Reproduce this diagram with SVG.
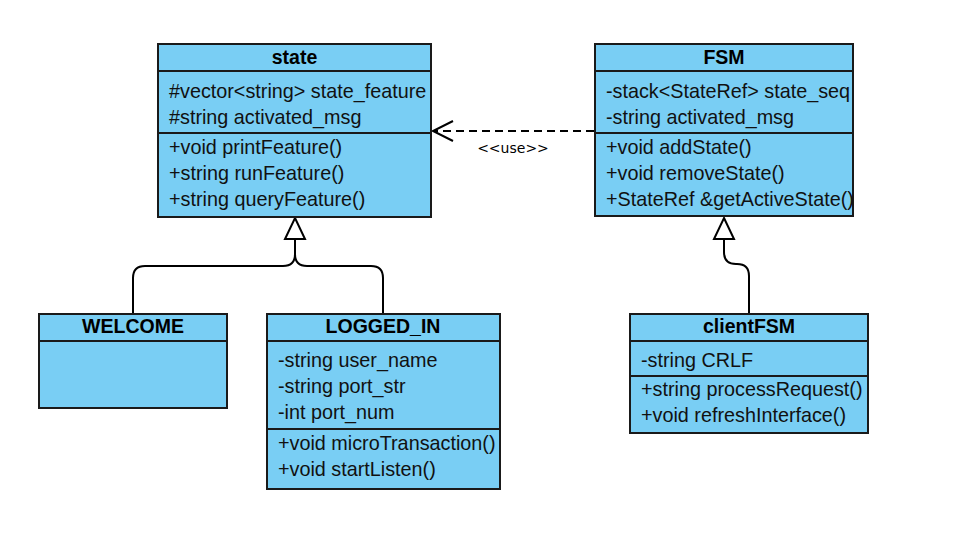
<svg xmlns="http://www.w3.org/2000/svg" width="964" height="546" viewBox="0 0 964 546">
<defs>
<style>
.box{fill:#79CEF4;stroke:#1a1a1a;stroke-width:2}
.sep{stroke:#1a1a1a;stroke-width:2;fill:none}
.t{font-family:"Liberation Sans",Arial,sans-serif;font-size:19.8px;fill:#111}
.h{font-family:"Liberation Sans",Arial,sans-serif;font-size:19.5px;font-weight:bold;fill:#000;text-anchor:middle}
.c{fill:none;stroke:#000;stroke-width:2}
.lbl{font-family:"DejaVu Sans",Verdana,sans-serif;font-size:14px;fill:#000;text-anchor:middle}
</style>
</defs>
<rect width="964" height="546" fill="#fff"/>
<g id="connectors">
<path class="c" d="M295,239 V254 Q295,266 283,266 H145 Q133,266 133,278 V314"/>
<path class="c" d="M295,254 Q295,266 307,266 H371 Q383,266 383,278 V314"/>
<polygon points="295,218 305,239 285,239" fill="#fff" stroke="#000" stroke-width="2"/>
<path class="c" d="M724,239 V252 Q724,264 736,264 H737 Q749,264 749,276 V314"/>
<polygon points="724,218 734,239 714,239" fill="#fff" stroke="#000" stroke-width="2"/>
<path class="c" d="M594,131 H434" stroke-dasharray="8 5"/>
<path class="c" d="M453,121 L433,131 L453,141"/>
<text class="lbl" x="513" y="153">&lt;&lt;use&gt;&gt;</text>
</g>
<g id="state">
<rect class="box" x="158" y="44" width="273" height="173"/>
<line class="sep" x1="158" y1="71" x2="431" y2="71"/>
<line class="sep" x1="158" y1="133" x2="431" y2="133"/>
<text class="h" x="294.5" y="64">state</text>
<text class="t" x="169" y="98">#vector&lt;string&gt; state_feature</text>
<text class="t" x="169" y="124">#string activated_msg</text>
<text class="t" x="169" y="154">+void printFeature()</text>
<text class="t" x="169" y="180">+string runFeature()</text>
<text class="t" x="169" y="206">+string queryFeature()</text>
</g>
<g id="FSM">
<rect class="box" x="595" y="44" width="258" height="172"/>
<line class="sep" x1="595" y1="71" x2="853" y2="71"/>
<line class="sep" x1="595" y1="133" x2="853" y2="133"/>
<text class="h" x="724" y="64">FSM</text>
<text class="t" x="606" y="98">-stack&lt;StateRef&gt; state_seq</text>
<text class="t" x="606" y="124">-string activated_msg</text>
<text class="t" x="606" y="154">+void addState()</text>
<text class="t" x="606" y="180">+void removeState()</text>
<text class="t" x="606" y="206">+StateRef &amp;getActiveState()</text>
</g>
<g id="WELCOME">
<rect class="box" x="39" y="314" width="188" height="94"/>
<line class="sep" x1="39" y1="341" x2="227" y2="341"/>
<text class="h" x="133" y="333">WELCOME</text>
</g>
<g id="LOGGED_IN">
<rect class="box" x="267" y="314" width="233" height="175"/>
<line class="sep" x1="267" y1="341" x2="500" y2="341"/>
<line class="sep" x1="267" y1="429" x2="500" y2="429"/>
<text class="h" x="383" y="333">LOGGED_IN</text>
<text class="t" x="278" y="367">-string user_name</text>
<text class="t" x="278" y="393">-string port_str</text>
<text class="t" x="278" y="419">-int port_num</text>
<text class="t" x="278" y="450">+void microTransaction()</text>
<text class="t" x="278" y="476">+void startListen()</text>
</g>
<g id="clientFSM">
<rect class="box" x="630" y="314" width="238" height="119"/>
<line class="sep" x1="630" y1="341" x2="868" y2="341"/>
<line class="sep" x1="630" y1="376" x2="868" y2="376"/>
<text class="h" x="749" y="333">clientFSM</text>
<text class="t" x="641" y="367">-string CRLF</text>
<text class="t" x="641" y="396">+string processRequest()</text>
<text class="t" x="641" y="422">+void refreshInterface()</text>
</g>
</svg>
